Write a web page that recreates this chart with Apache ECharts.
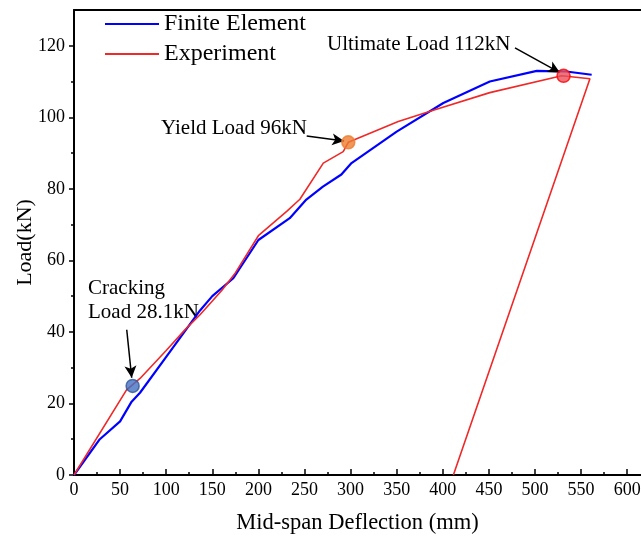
<!DOCTYPE html>
<html>
<head>
<meta charset="utf-8">
<script src="https://cdn.jsdelivr.net/npm/echarts@6/dist/echarts.min.js"></script>
<style>
  html, body { margin: 0; padding: 0; background: #fff; }
  #chart { width: 641px; height: 539px; }
</style>
</head>
<body>
<div id="chart"></div>
<script>
// 有限元曲线 (挠度 mm, 荷载 kN)
const femDeflection = [0, 28, 50, 62.5, 71.6, 100, 136.7, 150, 172.8, 200, 234, 252, 270, 290, 301, 350, 400.6, 451, 502, 534, 561.5]
const femLoad = [0, 10, 15, 20.5, 23, 33, 46, 50, 55, 65.7, 71.8, 77, 80.6, 84, 87.2, 96, 104, 110, 113, 112.8, 111.9]
// 试验曲线 (含卸载段)
const expDeflection = [0, 57, 71.6, 100, 120, 136.7, 160, 175, 200, 230.7, 245, 270.4, 292, 297.5, 351.7, 389.7, 451, 529, 559.6, 411.5]
const expLoad = [0, 23.8, 27, 34.8, 40.5, 44.8, 51.5, 56.5, 66.9, 73.7, 77.1, 87.2, 90.4, 93, 98.8, 102, 106.9, 111.6, 110.8, 0]
// 关键点: 开裂, 屈服, 极限
const keyDeflection = [63.6, 297.5, 531]
const keyLoad = [24.9, 93, 111.6]
const keyColors = ['#4472c4', '#ed7d31', '#e8505b']
const keyBorders = ['#2f5597', '#ed7d31', '#ff0000']
// 箭头起止点
const arrowFrom = [[57.2, 40.6], [252.4, 94.8], [478.3, 119.4]]
const arrowTo = [[62.6, 27.2], [293, 93.4], [527, 112.5]]
// 刻度
const xTicks = [0, 50, 100, 150, 200, 250, 300, 350, 400, 450, 500, 550, 600]
const yTicks = [0, 20, 40, 60, 80, 100, 120]

const font = 'Liberation Serif, Times New Roman, serif'
const zip = (xs, ys) => xs.map((x, i) => [x, ys[i]])

let mychart = echarts.init(document.getElementById('chart'))
mychart.setOption({
  animation: false,
  grid: { left: 74, top: 10, right: 0, bottom: 64, outerBoundsMode: 'none', containLabel: false },
  legend: {
    data: ['Finite Element', 'Experiment'],
    orient: 'vertical',
    left: 105,
    top: 12,
    icon: 'rect',
    itemWidth: 54,
    itemHeight: 2,
    itemGap: 6,
    padding: 0,
    textStyle: { fontFamily: font, fontSize: 24, color: '#000' }
  },
  xAxis: [
    {
      type: 'value',
      min: 0,
      max: 615,
      interval: 50,
      name: 'Mid-span Deflection (mm)',
      nameLocation: 'middle',
      nameGap: 37,
      nameMoveOverlap: false,
      nameTextStyle: { fontFamily: font, fontSize: 22.5, color: '#000' },
      axisLine: { show: true, lineStyle: { color: '#000', width: 2 } },
      axisTick: { show: true, inside: true, length: 6, customValues: xTicks, lineStyle: { color: '#000', width: 1.5 } },
      minorTick: { show: true, splitNumber: 2, length: 3, lineStyle: { color: '#000', width: 1.5 } },
      axisLabel: { fontFamily: font, fontSize: 18, color: '#000', margin: 6, customValues: xTicks },
      splitLine: { show: false }
    },
    {
      type: 'value',
      position: 'top',
      min: 0,
      max: 615,
      axisLine: { show: true, lineStyle: { color: '#000', width: 2 } },
      axisTick: { show: false },
      axisLabel: { show: false },
      splitLine: { show: false }
    }
  ],
  yAxis: {
    type: 'value',
    min: 0,
    max: 130,
    interval: 20,
    name: 'Load(kN)',
    nameLocation: 'middle',
    nameGap: 38,
    nameMoveOverlap: false,
    nameTextStyle: { fontFamily: font, fontSize: 22, color: '#000' },
    axisLine: { show: true, lineStyle: { color: '#000', width: 2 } },
    axisTick: { show: true, inside: false, length: 5, customValues: yTicks, lineStyle: { color: '#000', width: 1.5 } },
    minorTick: { show: true, splitNumber: 2, length: 3, lineStyle: { color: '#000', width: 1.5 } },
    axisLabel: { fontFamily: font, fontSize: 18, color: '#000', margin: 9, customValues: yTicks },
    splitLine: { show: false }
  },
  series: [
    {
      name: 'Finite Element',
      type: 'line',
      data: zip(femDeflection, femLoad),
      symbol: 'none',
      color: '#0000ff',
      lineStyle: { color: '#0000ff', width: 2.2 },
      z: 3
    },
    {
      name: 'Experiment',
      type: 'line',
      data: zip(expDeflection, expLoad),
      symbol: 'none',
      color: '#f02828',
      lineStyle: { color: '#f02828', width: 1.6 },
      z: 4
    },
    {
      name: 'Key Points',
      type: 'scatter',
      data: keyDeflection.map((x, i) => ({
        value: [x, keyLoad[i]],
        itemStyle: { color: keyColors[i], borderColor: keyBorders[i], borderWidth: 1.5 }
      })),
      symbolSize: 13,
      z: 5,
      markLine: {
        silent: true,
        symbol: ['none', 'arrow'],
        symbolSize: [9, 12],
        label: { show: false },
        lineStyle: { color: '#000', width: 1.5, type: 'solid' },
        data: arrowFrom.map((p, i) => [{ coord: p }, { coord: arrowTo[i] }])
      }
    }
  ],
  graphic: [
    { type: 'text', left: 88, top: 278, style: { text: 'Cracking', font: '21px ' + font, fill: '#000' } },
    { type: 'text', left: 88, top: 302, style: { text: 'Load 28.1kN', font: '21px ' + font, fill: '#000' } },
    { type: 'text', left: 161, top: 118, style: { text: 'Yield Load 96kN', font: '21px ' + font, fill: '#000' } },
    { type: 'text', left: 327, top: 34, style: { text: 'Ultimate Load 112kN', font: '21px ' + font, fill: '#000' } }
  ]
})
</script>
</body>
</html>
